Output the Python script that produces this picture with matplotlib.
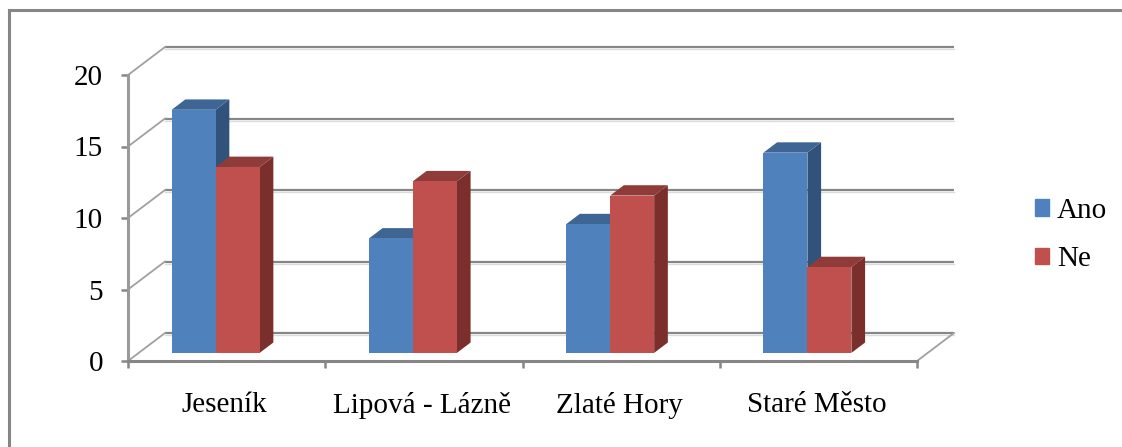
import matplotlib
matplotlib.use('Agg')
import matplotlib.pyplot as plt
from matplotlib.lines import Line2D
from matplotlib.patches import Patch, Polygon

categories = ['Jeseník', 'Lipová - Lázně', 'Zlaté Hory', 'Staré Město']
ano = [17, 8, 9, 14]
ne = [13, 12, 11, 6]
y_ticks = [0, 5, 10, 15, 20]

W, H = 1122, 447
GRID = '#868686'
GRID_LIGHT = '#dcdcdc'
BLUE = ('#4f81bd', '#3e6594', '#31527a')
RED = ('#c0504d', '#8f3b39', '#7a2f2d')
FONT_SIZE = 21

plt.rcParams['font.family'] = ['Liberation Serif', 'DejaVu Serif']

fig = plt.figure(figsize=(W / 100, H / 100), dpi=100)
ax = fig.add_axes([128 / W, 1 - 361 / H, 789 / W, 286 / H])
ax.set_xlim(0, 4)
ax.set_ylim(0, 20)
ax.patch.set_alpha(0)

# depth of the 3d box, in data units
DX = 37 / (789 / 4)
DY = 28 / (286 / 20)
BAR_W = 44 / (789 / 4)
BAR_FRONT = 0.29
BAR_DEPTH = 0.37
GROUP_POS = 0.39


def project(x, y, d):
    return x + d * DX, y + d * DY


# walls: gridlines on the back wall and the diagonals on the side wall
for t in y_ticks:
    x0, y0 = project(0, t, 0)
    x1, y1 = project(0, t, 1)
    x2, y2 = project(4, t, 1)
    ax.plot([x1, x2], [y1 - 0.14, y2 - 0.14], color=GRID_LIGHT, lw=1.0, clip_on=False, zorder=1)
    ax.plot([x1, x2], [y1, y2], color=GRID, lw=1.6, clip_on=False, zorder=1.1, solid_capstyle='butt')
    ax.plot([x0, x1], [y0, y1], color='#a0a0a0', lw=1.3, clip_on=False, zorder=1.1)
x0, y0 = project(4, 0, 0)
x1, y1 = project(4, 0, 1)
ax.plot([x0, x1], [y0, y1], color='#a0a0a0', lw=1.3, clip_on=False, zorder=1.1)


def draw_bar(left, value, colors, z):
    right = left + BAR_W
    front = [project(left, 0, BAR_FRONT), project(right, 0, BAR_FRONT),
             project(right, value, BAR_FRONT), project(left, value, BAR_FRONT)]
    top = [project(left, value, BAR_FRONT), project(right, value, BAR_FRONT),
           project(right, value, BAR_FRONT + BAR_DEPTH), project(left, value, BAR_FRONT + BAR_DEPTH)]
    side = [project(right, 0, BAR_FRONT), project(right, 0, BAR_FRONT + BAR_DEPTH),
            project(right, value, BAR_FRONT + BAR_DEPTH), project(right, value, BAR_FRONT)]
    ax.add_patch(Polygon(side, color=colors[2], lw=0, clip_on=False, zorder=z))
    ax.add_patch(Polygon(top, color=colors[1], lw=0, clip_on=False, zorder=z))
    ax.add_patch(Polygon(front, color=colors[0], lw=0, clip_on=False, zorder=z + 0.1))


for i in range(len(categories)):
    draw_bar(i + GROUP_POS - BAR_W, ano[i], BLUE, 2 + i)
    draw_bar(i + GROUP_POS, ne[i], RED, 2.5 + i)

for s in ['top', 'right']:
    ax.spines[s].set_visible(False)
ax.spines['left'].set_color('#9a9a9a')
ax.spines['left'].set_linewidth(2.2)
ax.spines['bottom'].set_color(GRID)
ax.spines['bottom'].set_linewidth(2.2)

ax.set_yticks(y_ticks)
ax.set_xticks(range(5))
ax.set_xticklabels([])
ax.set_xticks([i + 0.49 for i in range(4)], minor=True)
ax.set_xticklabels(categories, minor=True, fontsize=FONT_SIZE)
ax.tick_params(axis='x', which='major', length=5, width=1.8, color=GRID)
ax.tick_params(axis='x', which='minor', length=0, pad=22)
ax.tick_params(axis='y', length=5, width=1.8, color=GRID, pad=13, labelsize=FONT_SIZE)

handles = [Patch(color=BLUE[0], label='Ano'), Patch(color=RED[0], label='Ne')]
fig.legend(handles=handles, loc='center left', bbox_to_anchor=(1035 / W, 1 - 235 / H),
           frameon=False, fontsize=FONT_SIZE, handlelength=0.48, handleheight=0.48,
           handletextpad=0.27, labelspacing=0.76, borderpad=0, borderaxespad=0)

# outer chart border, only top and left are in the picture
fig.add_artist(Line2D([8.5 / W, 1], [1 - 9.5 / H, 1 - 9.5 / H], color=GRID, lw=2.2))
fig.add_artist(Line2D([8.5 / W, 8.5 / W], [0, 1 - 9.5 / H], color=GRID, lw=2.2))

fig.savefig('out.png', dpi=100, facecolor='white')
